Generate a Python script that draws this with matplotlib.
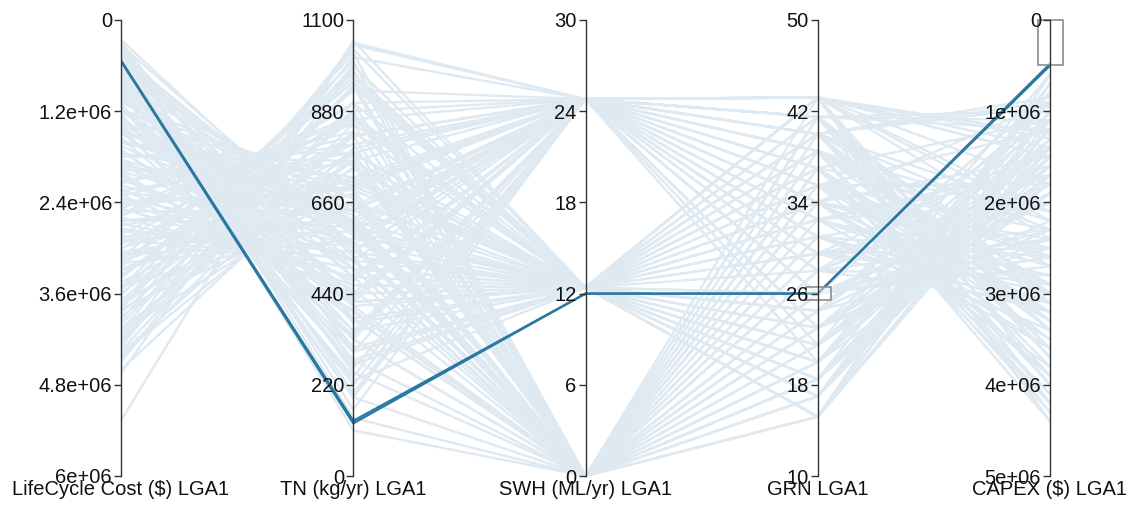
import matplotlib.pyplot as plt
from matplotlib.patches import Rectangle

plt.rcParams['font.family'] = ['Liberation Sans', 'DejaVu Sans']

# axis names, ranges and ticks
names = ['LifeCycle Cost ($) LGA1', 'TN (kg/yr) LGA1', 'SWH (ML/yr) LGA1',
         'GRN LGA1', 'CAPEX ($) LGA1']
limits = [(6.0, 0.0), (0, 1100), (0, 30), (10, 50), (5.0, 0.0)]  # (bottom, top); $ in millions
tick_values = [[0, 1.2, 2.4, 3.6, 4.8, 6.0],
               [0, 220, 440, 660, 880, 1100],
               [0, 6, 12, 18, 24, 30],
               [10, 18, 26, 34, 42, 50],
               [0, 1, 2, 3, 4, 5]]
tick_labels = [['0', '1.2e+06', '2.4e+06', '3.6e+06', '4.8e+06', '6e+06'],
               ['0', '220', '440', '660', '880', '1100'],
               ['0', '6', '12', '18', '24', '30'],
               ['10', '18', '26', '34', '42', '50'],
               ['0', '1e+06', '2e+06', '3e+06', '4e+06', '5e+06']]

# background designs (lifecycle and capex in $ millions)
lifecycle = [0.30, 0.35, 0.40, 0.45, 0.50, 0.55, 0.60, 0.65, 0.70, 0.75,
             0.80, 0.88, 0.95, 1.02, 1.10, 1.18, 1.25, 1.32, 1.40, 1.48,
             1.55, 1.60, 1.66, 1.72, 1.78, 1.84, 1.90, 1.96, 2.02, 2.10,
             2.15, 2.22, 2.28, 2.35, 2.42, 2.48, 2.55, 2.62, 2.70, 2.78,
             2.85, 2.92, 3.00, 3.08, 3.15, 3.22, 3.30, 3.38, 3.45, 3.52,
             3.60, 3.70, 3.80, 3.90, 4.00, 4.10, 4.22, 4.35, 4.50, 4.65,
             0.32, 0.90, 1.35, 1.90, 2.45, 2.95, 3.40, 3.85, 4.30, 1.15,
             0.62, 1.05, 1.70, 2.25, 2.75, 3.25, 3.75, 4.15, 0.85, 2.00,
             0.28, 0.72, 1.22, 1.62, 2.05, 2.58, 3.10, 3.55, 4.05, 4.45,
             0.38, 0.98, 1.45, 1.85, 2.32, 2.88, 3.35, 3.95, 1.28, 2.65,
             0.50, 1.12, 1.75, 2.38, 3.02, 3.68, 4.25, 0.68, 2.18, 3.18,
             0.42, 0.58, 0.78, 1.38, 1.98, 2.52, 3.12, 3.72, 4.38, 5.27,
             0.26, 0.33, 0.47, 0.56, 0.64, 0.83, 1.00, 1.20, 1.50, 1.80,
             2.00, 2.30, 2.60, 2.90, 3.20, 3.50, 3.80, 4.10, 4.40, 4.60,
             0.36, 0.92, 1.42, 1.93, 2.40, 2.82, 3.28, 3.78, 4.20, 1.08,
             0.52, 1.15, 1.58, 2.12, 2.68, 3.05, 3.62, 4.08, 0.74, 2.48]
tn = [160, 420, 250, 540, 310, 190, 480, 370, 600, 220,
      280, 650, 410, 520, 240, 700, 330, 590, 460, 380,
      340, 720, 560, 430, 780, 610, 470, 690, 400, 520,
      830, 450, 640, 560, 760, 480, 870, 600, 700, 540,
      620, 900, 720, 560, 820, 960, 680, 880, 740, 1000,
      860, 700, 1020, 780, 940, 820, 1040, 900, 980, 1045,
      140, 300, 500, 630, 710, 800, 950, 870, 1010, 440,
      330, 560, 380, 780, 520, 970, 760, 880, 230, 600,
      300, 190, 600, 700, 420, 850, 660, 930, 760, 850,
      380, 270, 640, 520, 820, 590, 780, 1030, 350, 680,
      420, 330, 690, 460, 900, 820, 940, 280, 570, 720,
      110, 260, 350, 410, 750, 640, 950, 980, 790, 1050,
      530, 550, 560, 580, 590, 610, 640, 670, 710, 760,
      395, 440, 480, 525, 570, 615, 660, 700, 745, 775,
      200, 480, 300, 560, 690, 860, 720, 940, 830, 600,
      500, 270, 620, 800, 500, 620, 1000, 990, 420, 860]
swh = [24.8, 12.4, 0, 24.8, 12.4, 0, 24.8, 12.4, 0, 24.8,
       12.4, 24.8, 0, 12.4, 24.8, 12.4, 0, 24.8, 12.4, 0,
       24.8, 12.4, 0, 24.8, 12.4, 0, 24.8, 12.4, 0, 24.8,
       12.4, 0, 24.8, 12.4, 0, 24.8, 12.4, 0, 24.8, 12.4,
       0, 24.8, 12.4, 0, 24.8, 12.4, 0, 24.8, 12.4, 0,
       24.8, 12.4, 0, 24.8, 12.4, 0, 24.8, 12.4, 0, 24.8,
       0, 24.8, 12.4, 0, 12.4, 24.8, 0, 12.4, 24.8, 12.4,
       24.8, 0, 12.4, 24.8, 0, 12.4, 24.8, 0, 12.4, 12.4,
       12.4, 24.8, 0, 24.8, 12.4, 0, 12.4, 24.8, 0, 12.4,
       0, 12.4, 24.8, 0, 24.8, 12.4, 0, 12.4, 24.8, 0,
       12.4, 0, 24.8, 12.4, 0, 24.8, 12.4, 0, 24.8, 12.4,
       0, 24.8, 12.4, 12.4, 0, 24.8, 12.4, 0, 24.8, 12.4,
       12.4, 0, 24.8, 12.4, 0, 24.8, 12.4, 0, 24.8, 12.4,
       0, 24.8, 12.4, 0, 24.8, 12.4, 0, 24.8, 12.4, 0,
       24.8, 0, 12.4, 24.8, 0, 12.4, 24.8, 0, 12.4, 24.8,
       0, 12.4, 24.8, 0, 12.4, 24.8, 0, 12.4, 24.8, 12.4]
grn = [43.2, 38.5, 20.0, 35.5, 29.5, 17.0, 41.5, 23.0, 32.5, 26.0,
       40.0, 31.0, 15.2, 34.0, 28.0, 43.2, 21.5, 37.0, 24.5, 38.5,
       29.5, 18.5, 41.5, 23.0, 35.5, 26.0, 40.0, 32.5, 17.0, 34.0,
       37.0, 24.5, 31.0, 43.2, 20.0, 38.5, 28.0, 34.0, 26.0, 15.2,
       40.0, 29.5, 21.5, 35.5, 41.5, 32.5, 18.5, 23.0, 37.0, 26.0,
       34.0, 43.2, 28.0, 38.5, 24.5, 31.0, 40.0, 20.0, 35.5, 41.5,
       23.0, 43.2, 17.0, 29.5, 32.5, 37.0, 21.5, 40.0, 26.0, 34.0,
       35.5, 31.0, 26.0, 41.5, 15.2, 38.5, 29.5, 43.2, 20.0, 24.5,
       31.0, 28.0, 37.0, 20.0, 40.0, 23.0, 43.2, 34.0, 18.5, 29.5,
       26.0, 17.0, 43.2, 34.0, 21.5, 35.5, 31.0, 24.5, 38.5, 41.5,
       21.5, 37.0, 32.5, 17.0, 28.0, 40.0, 26.0, 38.5, 23.0, 43.2,
       15.2, 29.5, 18.5, 41.5, 37.0, 43.2, 34.0, 24.5, 32.5, 38.5,
       43.2, 41.5, 40.0, 15.2, 17.0, 43.2, 41.5, 18.5, 40.0, 15.2,
       20.0, 37.0, 15.2, 23.0, 43.2, 18.5, 35.5, 41.5, 17.0, 38.5,
       38.5, 26.0, 31.0, 43.2, 24.5, 20.0, 35.5, 29.5, 43.2, 32.5,
       34.0, 21.5, 41.5, 28.0, 40.0, 26.0, 18.5, 37.0, 31.0, 23.0]
capex = [1.4, 2.9, 0.9, 1.8, 2.3, 0.7, 3.6, 1.2, 3.1, 2.0,
         3.3, 2.6, 1.0, 1.5, 2.8, 4.2, 1.7, 3.9, 1.1, 2.2,
         2.5, 1.3, 3.4, 1.9, 3.0, 2.4, 4.0, 1.6, 1.1, 2.7,
         2.1, 1.4, 3.2, 3.7, 0.8, 2.6, 1.8, 3.5, 2.7, 0.6,
         3.8, 2.0, 1.5, 2.3, 3.1, 2.8, 1.2, 2.2, 3.3, 1.9,
         2.5, 4.4, 1.7, 3.4, 2.0, 3.0, 3.6, 1.3, 2.9, 3.9,
         1.6, 2.4, 1.0, 2.9, 3.6, 4.1, 1.8, 2.7, 2.3, 3.2,
         1.2, 2.0, 2.6, 3.0, 1.3, 4.3, 1.4, 3.7, 0.9, 2.5,
         3.4, 1.1, 3.9, 1.0, 2.1, 1.8, 1.5, 2.4, 1.7, 2.8,
         0.8, 1.4, 2.2, 3.6, 1.9, 3.3, 2.6, 2.0, 4.2, 3.0,
         1.3, 3.5, 2.0, 1.5, 2.4, 2.3, 2.6, 3.1, 1.6, 4.0,
         0.7, 2.9, 1.4, 3.7, 3.2, 2.1, 3.8, 1.1, 1.7, 4.4,
         1.3, 1.1, 0.9, 1.4, 1.5, 1.25, 1.0, 1.6, 0.85, 1.3,
         1.5, 4.2, 1.0, 2.4, 4.4, 1.7, 3.9, 4.3, 1.2, 4.1,
         3.0, 2.6, 3.4, 1.5, 0.9, 1.9, 2.6, 3.2, 1.8, 2.9,
         0.9, 0.6, 1.2, 3.1, 0.95, 0.8, 0.7, 1.1, 3.4, 2.3]

# brushed (selected) designs
sel_lifecycle = [0.53, 0.545]
sel_tn = [133, 127]
sel_swh = [12.0, 12.0]
sel_grn = [26.0, 26.0]
sel_capex = [0.48, 0.50]

# brush extents: (dimension index, low, high)
brushes = [(3, 25.4, 26.6), (4, 0.0, 0.49)]

fig = plt.figure(figsize=(11.36, 5.05), dpi=100)
left0 = 121 / 1136
step = 232.25 / 1136
bottom = 29 / 505
height = 456 / 505

host = fig.add_axes([left0, bottom, 4 * step, height])
host.set_xlim(0, 4)
host.set_ylim(0, 1)
host.axis('off')

dims = []
for i in range(5):
    ax = fig.add_axes([left0 + i * step, bottom, 0.0005, height])
    ax.set_ylim(*limits[i])
    ax.set_yticks(tick_values[i])
    ax.set_yticklabels(tick_labels[i])
    ax.set_xticks([])
    ax.patch.set_visible(False)
    for side in ['right', 'top', 'bottom']:
        ax.spines[side].set_visible(False)
    ax.spines['left'].set_color('#333333')
    ax.spines['left'].set_linewidth(1)
    ax.tick_params(axis='y', length=5, width=1, color='#333333', pad=1.5,
                   labelsize=14.5, labelcolor='#111111')
    ax.text(0, -0.008, names[i], transform=ax.transAxes, ha='center', va='top',
            fontsize=14.5, color='#111111')
    dims.append(ax)


def to_host(i, v):
    # value -> vertical fraction through the dimension's own scale
    ax = dims[i]
    return (ax.transScale + ax.transLimits).transform((0, v))[1]


def draw(cols, color, lw, z):
    for row in zip(*cols):
        ys = [to_host(i, v) for i, v in enumerate(row)]
        host.plot(range(5), ys, color=color, lw=lw, zorder=z,
                  solid_joinstyle='round')


draw([lifecycle, tn, swh, grn, capex], '#dfe9f2', 1.7, 1)
draw([sel_lifecycle, sel_tn, sel_swh, sel_grn, sel_capex], '#2a78a2', 1.6, 3)

for i, lo, hi in brushes:
    y0, y1 = to_host(i, lo), to_host(i, hi)
    host.add_patch(Rectangle((i - 0.052, min(y0, y1)), 0.108, abs(y1 - y0),
                             facecolor='white', alpha=0.45, edgecolor='none',
                             zorder=4, clip_on=False))
    host.add_patch(Rectangle((i - 0.052, min(y0, y1)), 0.108, abs(y1 - y0),
                             facecolor='none', edgecolor='#8c8c8c', lw=1.2,
                             zorder=5, clip_on=False))

fig.savefig('out.png', dpi=100)
